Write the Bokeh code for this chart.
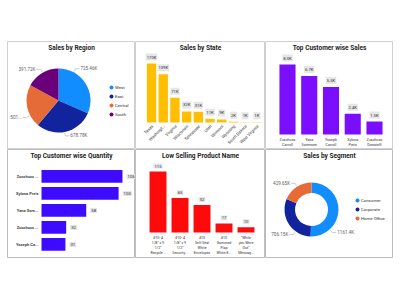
import math
from bokeh.plotting import figure
from bokeh.models import Range1d, Label, ColumnDataSource, Spacer
from bokeh.layouts import column, row
from bokeh.core.properties import value
from bokeh.embed import file_html
from bokeh.resources import INLINE

# ---------------- data ----------------
regions = ["West", "East", "Central", "South"]
region_sales = [725.46, 678.78, 501.24, 391.72]
region_labels = ["725.46K", "678.78K", "501...", "391.72K"]
region_colors = ["#118DFF", "#12239E", "#E66C37", "#6B007B"]

states = ["Texas", "Washingt...", "Virginia", "Wisconsin", "Tennessee", "Utah",
          "Vermont", "Wyoming", "South Dakota", "West Virginia"]
state_sales = [170, 139, 71, 32, 31, 11, 9, 2, 1, 1]

customers = ["Zuschuss\nCarroll", "Yana\nSorensen", "Yoseph\nCarroll", "Xylona\nPreis", "Zuschuss\nDonatelli"]
customer_sales = [8.03, 6.72, 5.46, 2.37, 1.49]

qty_customers = ["Zuschuss ...", "Xylona Preis", "Yana Sore...", "Zuschuss ...", "Yoseph Ca..."]
qty_values = [105, 100, 58, 32, 31]

products = ["#10- 4\n1/8\" x 9\n1/2\"\nRecycle...",
            "#10- 4\n1/8\" x 9\n1/2\"\nSecurity...",
            "#10\nSelf-Seal\nWhite\nEnvelopes",
            "#10\nGummed\nFlap\nWhite E...",
            "\"While\nyou Were\nOut\"\nMessag..."]
product_qty = [115, 65, 52, 17, 10]

segments = ["Consumer", "Corporate", "Home Office"]
segment_sales = [1161.40, 706.15, 429.65]
segment_labels = ["1161.4K", "706.15K", "429.65K"]
segment_colors = ["#118DFF", "#12239E", "#E66C37"]

# leader-line directions (degrees) used by the data-label layout
region_label_deg = [62, -79, -152, 120]
segment_label_deg = [-48, -126, 122]

FONT = "Roboto"
TXT = "#333333"
BOX = "#E6E6E6"


def panel(w, h, xr, yr, title, outline="#D0D0D0"):
    p = figure(width=w, height=h, x_range=Range1d(*xr), y_range=Range1d(*yr),
               output_backend="svg", toolbar_location=None, tools="", min_border=0,
               x_axis_location=None, y_axis_location=None)
    p.grid.grid_line_color = None
    p.outline_line_color = outline
    p.background_fill_color = "white"
    p.border_fill_color = "white"
    p.add_layout(Label(x=w / 2, y=h - 6, x_units="screen", y_units="screen", text=title,
                       text_align="center", text_baseline="middle", text_font=FONT,
                       text_font_size="6.5px", text_font_style="bold", text_color="#252423"))
    return p


def angles(vals):
    total = sum(vals)
    cum = 0.0
    s, e = [], []
    for v in vals:
        a0 = math.pi / 2 - 2 * math.pi * cum / total
        cum += v
        a1 = math.pi / 2 - 2 * math.pi * cum / total
        s.append(a0); e.append(a1)
    return s, e


def pie_labels(p, cx, cy, r, degs, labels):
    rad = [math.radians(d) for d in degs]
    right = [math.cos(a) >= 0 for a in rad]
    x0 = [cx + (r + 1) * math.cos(a) for a in rad]
    y0 = [cy + (r + 1) * math.sin(a) for a in rad]
    x1 = [cx + (r + 4) * math.cos(a) for a in rad]
    y1 = [cy + (r + 4) * math.sin(a) for a in rad]
    x2 = [a + (4 if rt else -4) for a, rt in zip(x1, right)]
    p.segment(x0=x0, y0=y0, x1=x1, y1=y1, line_color="#AAAAAA", line_width=0.6)
    p.segment(x0=x1, y0=y1, x1=x2, y1=y1, line_color="#AAAAAA", line_width=0.6)
    src = ColumnDataSource(dict(x=[a + (1 if rt else -1) for a, rt in zip(x2, right)], y=y1, t=labels,
                                al=["left" if rt else "right" for rt in right]))
    p.text(x="x", y="y", text="t", text_align="al", text_baseline="middle", source=src,
           text_font=value(FONT), text_font_size="4.6px", text_color="#605E5C")


def legend(p, x, ytop, names, colors, step):
    ys = [ytop - step * i for i in range(len(names))]
    p.scatter(x=[x] * len(names), y=ys, size=4, fill_color=colors, line_color=None)
    p.text(x=[x + 3.5] * len(names), y=ys, text=names, text_baseline="middle", text_align="left",
           text_font=value(FONT), text_font_size="4.3px", text_color=TXT)


# ---------------- panel 1: pie ----------------
p1 = panel(128, 108, (7, 135), (-149, -41), "Sales by Region")
s, e = angles(region_sales)
cx, cy, R = 58, -100, 32
p1.wedge(x=[cx] * 4, y=[cy] * 4, radius=R, start_angle=s, end_angle=e, direction="clock",
         fill_color=region_colors, line_color=None)
pie_labels(p1, cx, cy, R, region_label_deg, region_labels)
legend(p1, 111, -87, regions, region_colors, 9)

# ---------------- panel 2: states ----------------
p2 = panel(130, 108, (-1.37, 9.74), (-77.8, 233.4), "Sales by State")
idx2 = list(range(len(states)))
p2.vbar(x=idx2, top=state_sales, width=0.8, fill_color="#FFBE00", line_color=None)
p2.text(x=idx2, y=state_sales, text=[f"{v}K" for v in state_sales], y_offset=-3,
        text_align="center", text_baseline="bottom", text_font=value(FONT), text_font_size="4.2px",
        text_color=TXT, background_fill_color=BOX, padding=1)
p2.text(x=idx2, y=[0] * len(states), text=states, angle=math.pi / 4, x_offset=1, y_offset=3,
        text_align="right", text_baseline="middle", text_font=value(FONT), text_font_size="4.2px",
        text_color=TXT)

# ---------------- panel 3: top customer sales ----------------
p3 = panel(128, 108, (-1.011, 4.874), (-1.72, 10.67), "Top Customer wise Sales")
idx3 = list(range(len(customers)))
p3.vbar(x=idx3, top=customer_sales, width=0.74, fill_color="#7B0EFF", line_color=None)
p3.text(x=idx3, y=customer_sales, text=[f"{v:.1f}K" for v in customer_sales], y_offset=-3,
        text_align="center", text_baseline="bottom", text_font=value(FONT), text_font_size="4.2px",
        text_color=TXT, background_fill_color=BOX, padding=1)
p3.text(x=idx3, y=[0] * len(customers), text=customers, y_offset=3, text_align="center",
        text_baseline="top", text_font=value(FONT), text_font_size="3.7px", text_color=TXT,
        text_line_height=1.3)

# ---------------- panel 4: quantity ----------------
p4 = panel(128, 109, (-44.1, 121.9), (4.824, -1.588), "Top Customer wise Quantity", "#BDBDBD")
idx4 = list(range(len(qty_customers)))
p4.hbar(y=idx4, left=0, right=qty_values, height=0.75, fill_color="#3D0BFF", line_color=None)
p4.text(x=[0] * len(idx4), y=idx4, text=qty_customers, x_offset=-3, text_align="right",
        text_baseline="middle", text_font=value(FONT), text_font_size="4px", text_color="#444444",
        text_font_style="bold")
p4.text(x=qty_values, y=idx4, text=[str(v) for v in qty_values], x_offset=4, text_align="left",
        text_baseline="middle", text_font=value(FONT), text_font_size="4.3px", text_color=TXT,
        background_fill_color=BOX, padding=1)

# ---------------- panel 5: low selling ----------------
p5 = panel(130, 109, (-1.023, 4.886), (-49.0, 156.5), "Low Selling Product Name", "#BDBDBD")
idx5 = list(range(len(products)))
p5.vbar(x=idx5, top=product_qty, width=0.77, fill_color="#FF0A0A", line_color=None)
p5.text(x=idx5, y=product_qty, text=[str(v) for v in product_qty], y_offset=-3,
        text_align="center", text_baseline="bottom", text_font=value(FONT), text_font_size="4.2px",
        text_color=TXT, background_fill_color=BOX, padding=1)
p5.text(x=idx5, y=[0] * len(products), text=products, y_offset=3, text_align="center",
        text_baseline="top", text_font=value(FONT), text_font_size="3.6px", text_color=TXT,
        text_line_height=1.3)

# ---------------- panel 6: donut ----------------
p6 = panel(128, 109, (265, 393), (-259, -150), "Sales by Segment", "#BDBDBD")
s6, e6 = angles(segment_sales)
dx, dy, RO, RI = 311, -210, 27, 16.5
p6.annular_wedge(x=[dx] * 3, y=[dy] * 3, inner_radius=RI, outer_radius=RO, start_angle=s6,
                 end_angle=e6, direction="clock", fill_color=segment_colors, line_color=None)
pie_labels(p6, dx, dy, RO, segment_label_deg, segment_labels)
legend(p6, 357, -201, segments, segment_colors, 9)

layout = column(
    Spacer(width=400, height=41),
    row(Spacer(width=7, height=108), p1, p2, p3),
    row(Spacer(width=7, height=109), p4, p5, p6),
)

open("out.html", "w").write(file_html(layout, INLINE))
